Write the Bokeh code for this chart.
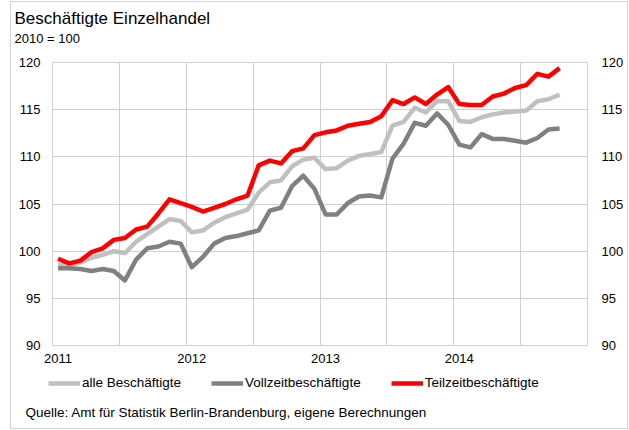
from bokeh.plotting import figure
from bokeh.layouts import column
from bokeh.models import Range1d, FixedTicker, LinearAxis, Legend, LegendItem, Label
from bokeh.embed import file_html
from bokeh.resources import INLINE

# ---- data ----
years = ["2011", "2012", "2013", "2014"]
n_months = 46  # Jan 2011 .. Oct 2014
month_labels = [f"{y}-{m:02d}" for y in years for m in range(1, 13)][:n_months]

alle = [98.6, 98.5, 98.8, 99.3, 99.6, 100.0, 99.8, 101.0, 101.8, 102.6, 103.4, 103.2,
        102.0, 102.2, 103.0, 103.6, 104.0, 104.4, 106.2, 107.3, 107.5, 109.0, 109.7, 109.9,
        108.7, 108.8, 109.6, 110.1, 110.3, 110.5, 113.3, 113.7, 115.2, 114.7, 115.9, 115.9,
        113.8, 113.7, 114.2, 114.5, 114.7, 114.8, 114.9, 115.9, 116.1, 116.6]
vollzeit = [98.2, 98.2, 98.1, 97.9, 98.1, 97.9, 96.9, 99.1, 100.3, 100.5, 101.0, 100.8,
            98.3, 99.4, 100.8, 101.4, 101.6, 101.9, 102.2, 104.3, 104.6, 106.9, 108.0, 106.6,
            103.9, 103.9, 105.1, 105.8, 105.9, 105.7, 109.8, 111.4, 113.6, 113.3, 114.6, 113.4,
            111.3, 111.0, 112.4, 111.9, 111.9, 111.7, 111.5, 112.0, 112.9, 113.0]
teilzeit = [99.2, 98.7, 99.0, 99.9, 100.3, 101.2, 101.4, 102.3, 102.6, 104.0, 105.5, 105.1,
            104.7, 104.2, 104.6, 105.0, 105.5, 105.9, 109.1, 109.6, 109.3, 110.6, 110.9, 112.3,
            112.6, 112.8, 113.3, 113.5, 113.7, 114.3, 116.0, 115.6, 116.3, 115.6, 116.6, 117.4,
            115.6, 115.5, 115.5, 116.4, 116.7, 117.3, 117.6, 118.8, 118.5, 119.4]
series_names = ["alle Beschäftigte", "Vollzeitbeschäftigte", "Teilzeitbeschäftigte"]
series_colors = ["#C0C0C0", "#808080", "#FF0000"]
y_ticks = [90, 95, 100, 105, 110, 115, 120]

title_text = "Beschäftigte Einzelhandel"
subtitle_text = "2010 = 100"
source_text = "Quelle: Amt für Statistik Berlin-Brandenburg, eigene Berechnungen"

# x position: centre of each monthly category
xs = [i + 0.5 for i in range(len(month_labels))]
year_ticks = [i + 0.5 for i, m in enumerate(month_labels) if m.endswith("-01")]
half_year_grid = [i for i in range(1, 48) if i % 6 == 0]

FONT = "Liberation Sans"
GRID = "#CFCFCF"
W = 616


def blank_fig(h):
    f = figure(width=W, height=h, output_backend="svg", toolbar_location=None,
               x_range=Range1d(0, 1), y_range=Range1d(0, 1),
               x_axis_location=None, y_axis_location=None,
               min_border=0, min_border_left=0, min_border_right=0,
               min_border_top=0, min_border_bottom=0)
    f.frame_align = False
    f.xgrid.visible = False
    f.ygrid.visible = False
    f.outline_line_color = None
    f.background_fill_color = "white"
    f.border_fill_color = "white"
    return f


# ---- header ----
head = blank_fig(52)
head.add_layout(Label(x=3, y=36, x_units="screen", y_units="screen", text=title_text,
                      text_baseline="middle", text_font=FONT, text_font_size="17px",
                      text_color="#000000"))
head.add_layout(Label(x=3, y=16, x_units="screen", y_units="screen", text=subtitle_text,
                      text_baseline="middle", text_font=FONT, text_font_size="13px",
                      text_color="#000000"))

# ---- main chart ----
p = figure(width=W, height=318, output_backend="svg", toolbar_location=None,
           x_range=Range1d(0, 48), y_range=Range1d(90, 120),
           min_border_left=41, min_border_right=40, min_border_top=8, min_border_bottom=27)
p.frame_align = False
p.background_fill_color = "white"
p.border_fill_color = "white"
p.outline_line_color = GRID
p.outline_line_width = 1
p.xgrid.ticker = FixedTicker(ticks=half_year_grid)
p.xgrid.grid_line_color = GRID
p.ygrid.grid_line_color = GRID


def style_axis(ax, standoff):
    ax.axis_line_color = None
    ax.major_tick_line_color = None
    ax.minor_tick_line_color = None
    ax.major_tick_in = 0
    ax.major_tick_out = 0
    ax.major_label_standoff = standoff
    ax.major_label_text_font = FONT
    ax.major_label_text_font_size = "13px"
    ax.major_label_text_color = "#000000"


p.yaxis.ticker = FixedTicker(ticks=y_ticks)
style_axis(p.yaxis[0], 12)
right_axis = LinearAxis(ticker=FixedTicker(ticks=y_ticks))
style_axis(right_axis, 14)
p.add_layout(right_axis, "right")

p.xaxis.ticker = FixedTicker(ticks=year_ticks)
p.xaxis.major_label_overrides = {t: y for t, y in zip(year_ticks, years)}
style_axis(p.xaxis[0], 8)

for vals, col in zip([alle, vollzeit, teilzeit], series_colors):
    p.line(xs, vals, line_color=col, line_width=4.5, line_join="round")

# ---- footer: legend + source (legend renderers lie outside this strip's ranges) ----
foot = blank_fig(56)
items = []
for name, vals, col in zip(series_names, [alle, vollzeit, teilzeit], series_colors):
    r = foot.line(xs, vals, line_color=col, line_width=4.5)
    items.append(LegendItem(label=name, renderers=[r]))
legend = Legend(items=items, orientation="horizontal", location=(37, 38),
                glyph_width=32, glyph_height=14, label_height=14, label_standoff=2,
                spacing=30, padding=0, margin=0, border_line_color=None,
                background_fill_alpha=0, label_text_font=FONT,
                label_text_font_size="13.5px", label_text_color="#000000")
foot.add_layout(legend)
foot.add_layout(Label(x=14, y=16, x_units="screen", y_units="screen", text=source_text,
                      text_baseline="middle", text_font=FONT, text_font_size="13.5px",
                      text_color="#000000"))

layout = column(head, p, foot, spacing=0,
                styles={"border": "1px solid #D4D4D4", "margin-left": "10px",
                        "margin-top": "1px"})

open("out.html", "w", encoding="utf-8").write(file_html(layout, INLINE))
